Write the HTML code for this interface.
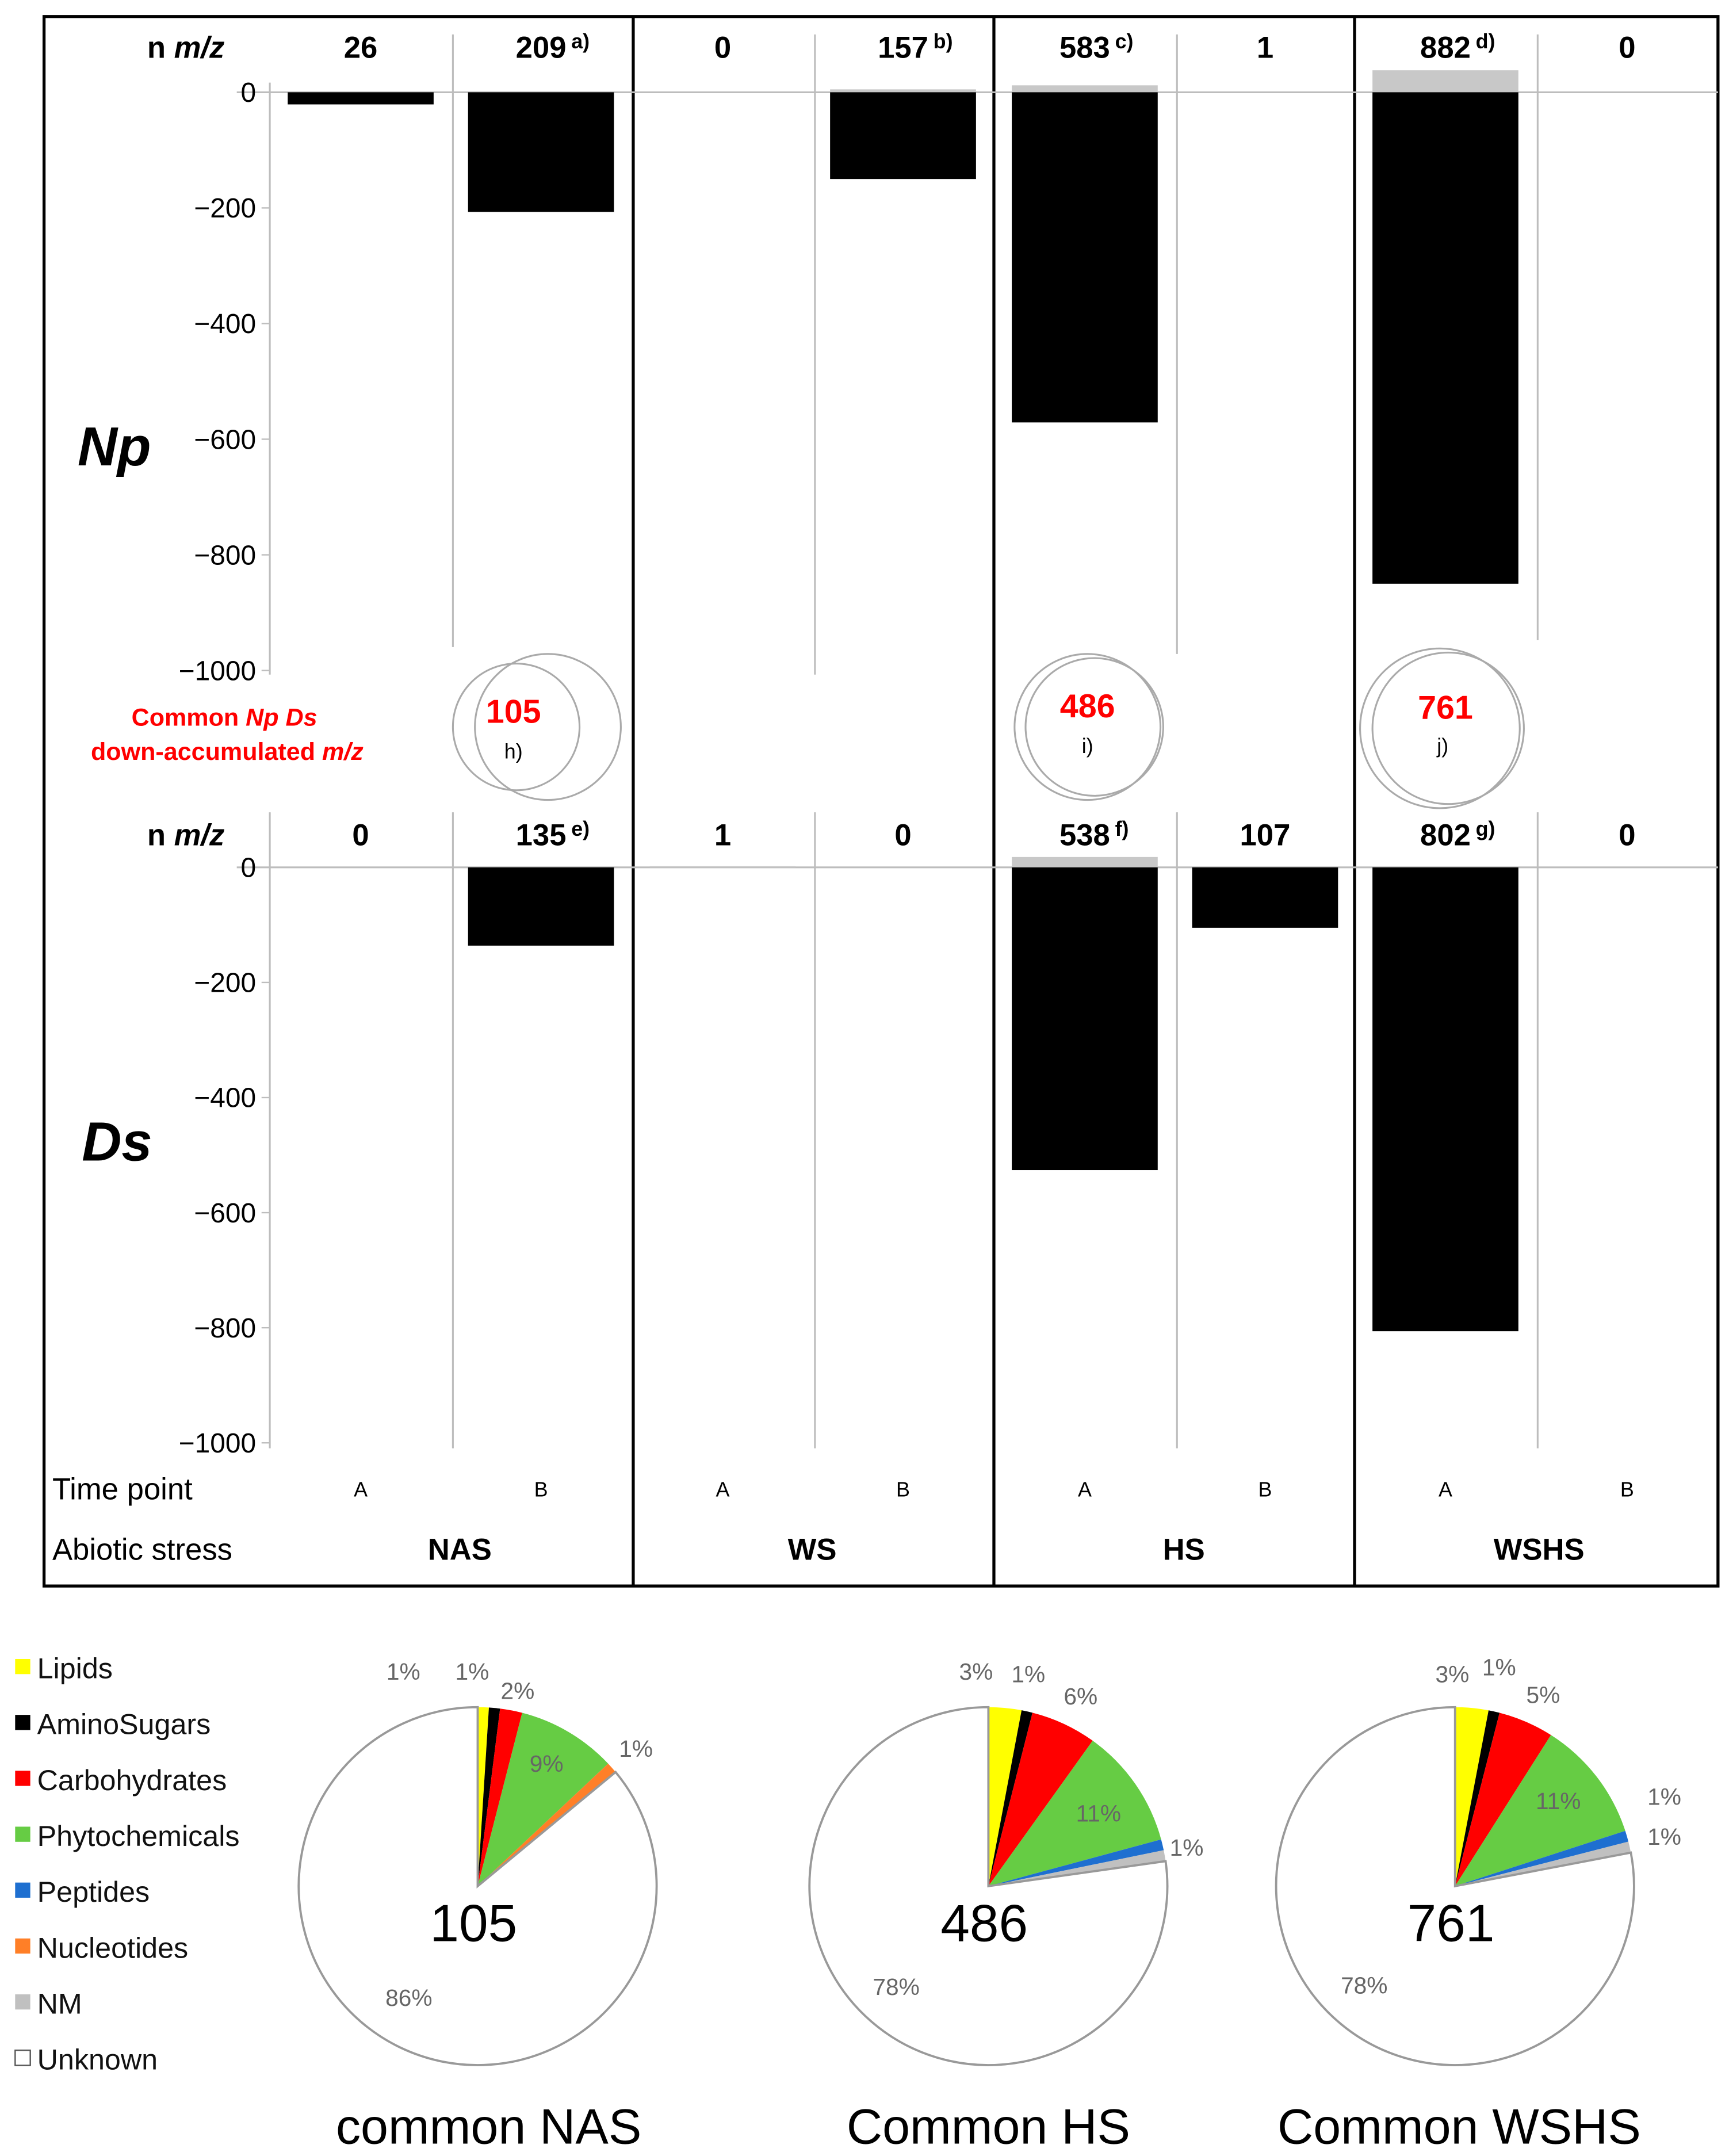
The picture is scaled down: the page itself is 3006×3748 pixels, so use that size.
<!DOCTYPE html>
<html><head><meta charset="utf-8">
<style>
html,body{margin:0;padding:0;background:#fff;}
svg{display:block;font-family:"Liberation Sans",sans-serif;}
</style></head>
<body>
<svg id="fig" width="3006" height="3748" viewBox="0 0 1256 1566" xmlns="http://www.w3.org/2000/svg">
<g id="frame" stroke="#000" stroke-width="2.2" fill="none">
  <rect x="32" y="12" width="1216" height="1140"/>
  <line x1="460" y1="12" x2="460" y2="1152"/>
  <line x1="722" y1="12" x2="722" y2="1152"/>
  <line x1="984" y1="12" x2="984" y2="1152"/>
</g>
<g id="grid" stroke="#bdbdbd" stroke-width="1.3">
  <line x1="196" y1="60" x2="196" y2="490"/>
  <line x1="329" y1="25" x2="329" y2="470"/>
  <line x1="592" y1="25" x2="592" y2="490"/>
  <line x1="855" y1="25" x2="855" y2="475"/>
  <line x1="1117" y1="25" x2="1117" y2="465"/>
  <line x1="196" y1="590" x2="196" y2="1052"/>
  <line x1="329" y1="590" x2="329" y2="1052"/>
  <line x1="592" y1="590" x2="592" y2="1052"/>
  <line x1="855" y1="590" x2="855" y2="1052"/>
  <line x1="1117" y1="590" x2="1117" y2="1052"/>
</g>
<g id="charts"></g>
<g id="venn" fill="none" stroke="#aaa" stroke-width="1.3">
  <circle cx="375" cy="528" r="46"/><circle cx="398" cy="528" r="53"/>
  <circle cx="790" cy="528" r="53"/><circle cx="795" cy="528" r="50"/>
  <circle cx="1046" cy="529" r="58"/><circle cx="1052" cy="529" r="55"/>
</g>
<g font-weight="bold" fill="#ff0000" text-anchor="middle" font-size="18">
  <text x="163" y="527">Common <tspan font-style="italic">Np Ds</tspan></text>
  <text x="165" y="552">down-accumulated <tspan font-style="italic">m/z</tspan></text>
  <text x="373" y="525" font-size="24">105</text>
  <text x="790" y="521" font-size="24">486</text>
  <text x="1050" y="522" font-size="24">761</text>
</g>
<g fill="#000" text-anchor="middle" font-size="15">
  <text x="373" y="551">h)</text><text x="790" y="547">i)</text><text x="1048" y="547">j)</text>
</g>
<g font-size="40" font-weight="bold" font-style="italic" text-anchor="middle">
  <text x="83" y="338">Np</text>
  <text x="85" y="843">Ds</text>
</g>
<g font-size="22">
  <text x="38" y="1089">Time point</text>
  <text x="38" y="1133">Abiotic stress</text>
</g>
<g font-size="22" font-weight="bold" text-anchor="middle">
  <text x="334" y="1133">NAS</text><text x="590" y="1133">WS</text><text x="860" y="1133">HS</text><text x="1118" y="1133">WSHS</text>
</g>
<g id="legend"></g>
<g id="pies"></g>
</svg>
<script>
const NS='http://www.w3.org/2000/svg';
function mk(tag,attrs,parent,txt){const e=document.createElementNS(NS,tag);for(const k in attrs)e.setAttribute(k,attrs[k]);if(txt!==undefined)e.textContent=txt;parent.appendChild(e);return e;}

// ---------- bar chart data ----------
const barCenters=[262,393,525,656,788,919,1050,1182];
const timePoints=['A','B','A','B','A','B','A','B'];
const npCounts=['26','209','0','157','583','1','882','0'];
const npNotes=['','a)','','b)','c)','','d)',''];
const npValues=[-21,-207,0,-150,-571,0,-850,0];
const npGrey=[0,0,0,5,12,0,38,0];
const dsCounts=['0','135','1','0','538','107','802','0'];
const dsNotes=['','e)','','','f)','','g)',''];
const dsValues=[0,-136,0,0,-526,-105,-806,0];
const dsGrey=[0,0,2,0,18,0,0,0];
const yTicks=[0,-200,-400,-600,-800,-1000];

const charts=document.getElementById('charts');
function drawChart(name,zeroY,scale,counts,notes,values,grey,labelY){
  const g=mk('g',{},charts);
  
  
  const y=v=>zeroY-v*scale;
  const zl=mk('line',{x1:172,y1:y(0),x2:1248,y2:y(0),stroke:'#bdbdbd','stroke-width':1.3},g);
  
  
  yTicks.forEach(t=>{
    const tl=mk('text',{x:186,y:y(t)+7,'text-anchor':'end','font-size':20,fill:'#000'},g,t===0?'0':'\u2212'+Math.abs(t));
    
    
    mk('line',{x1:190,y1:y(t),x2:196,y2:y(t),stroke:'#bdbdbd','stroke-width':1},g);
  });
  const hl=mk('text',{x:135,y:labelY,'text-anchor':'middle','font-size':22,'font-weight':'bold'},g);
  
  
  mk('tspan',{},hl,'n ');mk('tspan',{'font-style':'italic'},hl,'m/z');
  barCenters.forEach((cx,i)=>{
    if(grey[i]>0){
      const gr=mk('rect',{x:cx-53,y:y(grey[i]),width:106,height:grey[i]*scale,fill:'#c8c8c8'},g);
      
      
    }
    if(values[i]<0){
      const b=mk('rect',{x:cx-53,y:y(0),width:106,height:-values[i]*scale,fill:'#000'},g);
      
      
    }
    const t=mk('text',{x:cx,y:labelY,'text-anchor':'middle','font-size':22,'font-weight':'bold'},g,counts[i]);
    
    
    if(notes[i]){
      const n=mk('text',{x:cx+22,y:labelY-7,'font-size':15,'font-weight':'bold'},g,notes[i]);
      
      
    }
  });
}
drawChart('np',67,0.42,npCounts,npNotes,npValues,npGrey,42);
drawChart('ds',630,0.418,dsCounts,dsNotes,dsValues,dsGrey,614);
barCenters.forEach((cx,i)=>{
  const t=mk('text',{x:cx,y:1087,'text-anchor':'middle','font-size':15},charts,timePoints[i]);
  
  
});

// ---------- pie data ----------
const categories=['Lipids','AminoSugars','Carbohydrates','Phytochemicals','Peptides','Nucleotides','NM','Unknown'];
const colors=['#ffff00','#000000','#ff0000','#66cc44','#1e6fd0','#ff7f27','#c0c0c0','#ffffff'];
const nasValues=[1,1,2,9,0,1,0,86];
const hsValues=[3,1,6,11,1,0,1,78];
const wshsValues=[3,1,5,11,1,0,1,78];
const pieTotals=['105','486','761'];
const pieTitles=['common NAS','Common HS','Common WSHS'];

const leg=document.getElementById('legend');
categories.forEach((c,i)=>{
  const yy=1212+i*40.6;
  const it=mk('g',{},leg);
  
  
  mk('rect',{x:11,y:yy-7,width:11,height:11,fill:colors[i],stroke:i===7?'#555':'none','stroke-width':1},it);
  mk('text',{x:27,y:yy+7,'font-size':21,fill:'#111'},it,c);
});

const pieCfg=[
 {cx:347,cy:1370,r:130,vals:nasValues,lab:[[293,1220],[343,1220],[376,1234],[397,1287],[462,1276],[297,1457]]},
 {cx:718,cy:1370,r:130,vals:hsValues,lab:[[709,1220],[747,1222],[785,1238],[798,1323],[862,1348],null,[651,1449]]},
 {cx:1057,cy:1370,r:130,vals:wshsValues,lab:[[1055,1222],[1089,1217],[1121,1237],[1132,1314],[1209,1311],[1209,1340],[991,1448]]}
];
const pies=document.getElementById('pies');
pieCfg.forEach((p,pi)=>{
  const g=mk('g',{},pies);
  
  
  const tot=p.vals.reduce((a,b)=>a+b,0);
  let a0=0;const labs=[];
  p.vals.forEach((v,i)=>{
    if(v<=0)return;
    const a1=a0+v/tot*2*Math.PI;
    const x0=p.cx+p.r*Math.sin(a0),y0=p.cy-p.r*Math.cos(a0);
    const x1=p.cx+p.r*Math.sin(a1),y1=p.cy-p.r*Math.cos(a1);
    const large=(a1-a0)>Math.PI?1:0;
    const s=mk('path',{d:`M${p.cx},${p.cy} L${x0},${y0} A${p.r},${p.r} 0 ${large} 1 ${x1},${y1} Z`,fill:colors[i],stroke:i===7?'#999':'none','stroke-width':1.6},g);
    
    
    labs.push(v+'%');
    a0=a1;
  });
  labs.forEach((t,k)=>{
    const pos=p.lab[k];if(!pos)return;
    const tl=mk('text',{x:pos[0],y:pos[1],'text-anchor':'middle','font-size':17,fill:'#666'},g,t);
    
    
  });
  const c=mk('text',{x:p.cx-3,y:p.cy+40,'text-anchor':'middle','font-size':38,fill:'#000'},g,pieTotals[pi]);
  
  
  const tt=mk('text',{x:p.cx+(pi===0?8:pi===2?3:0),y:1557,'text-anchor':'middle','font-size':36,fill:'#000'},g,pieTitles[pi]);
  
  
});
</script>
</body></html>
